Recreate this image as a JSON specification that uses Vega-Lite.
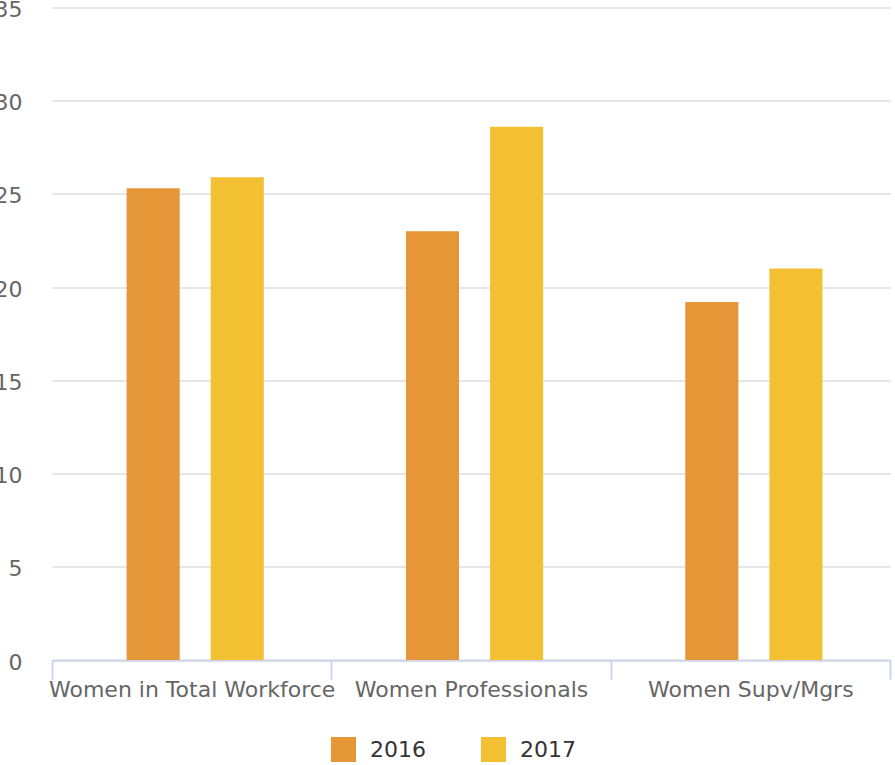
{
  "$schema": "https://vega.github.io/schema/vega-lite/v6.json",
  "autosize": "none",
  "width": 838,
  "height": 652.5,
  "padding": {"left": 52, "top": 7.5, "right": 5, "bottom": 105},
  "background": "white",
  "config": {
    "view": {"stroke": null},
    "font": "DejaVu Sans"
  },
  "data": {
    "values": [
      {"category": "Women in Total Workforce", "year": "2016", "value": 25.3},
      {"category": "Women in Total Workforce", "year": "2017", "value": 25.9},
      {"category": "Women Professionals", "year": "2016", "value": 23.0},
      {"category": "Women Professionals", "year": "2017", "value": 28.6},
      {"category": "Women Supv/Mgrs", "year": "2016", "value": 19.2},
      {"category": "Women Supv/Mgrs", "year": "2017", "value": 21.0}
    ]
  },
  "mark": {"type": "bar"},
  "encoding": {
    "x": {
      "field": "category",
      "type": "nominal",
      "sort": null,
      "scale": {"paddingInner": 0, "paddingOuter": 0},
      "axis": {
        "title": null,
        "labelAngle": 0,
        "labelFont": "DejaVu Sans",
        "labelFontSize": 22,
        "labelColor": "#666666",
        "labelPadding": 0,
        "labelLimit": 400,
        "labelOverlap": false,
        "domainColor": "#ccd6eb",
        "domainWidth": 2,
        "tickColor": "#ccd6eb",
        "tickWidth": 2,
        "tickSize": 19,
        "tickBand": "extent",
        "grid": false
      }
    },
    "xOffset": {
      "field": "year",
      "type": "nominal",
      "scale": {"paddingInner": 0.369, "paddingOuter": 0.845, "align": 0.525}
    },
    "y": {
      "field": "value",
      "type": "quantitative",
      "scale": {"domain": [0, 35], "nice": false},
      "axis": {
        "title": null,
        "values": [0, 5, 10, 15, 20, 25, 30, 35],
        "labelFont": "DejaVu Sans",
        "labelFontSize": 22,
        "labelColor": "#666666",
        "labelPadding": 30,
        "ticks": false,
        "tickSize": 0,
        "domain": false,
        "gridColor": "#e6e6e6",
        "gridWidth": 2,
        "labelBaseline": "middle",
        "labelOffset": 2
      }
    },
    "color": {
      "field": "year",
      "type": "nominal",
      "scale": {"domain": ["2016", "2017"], "range": ["#E59636", "#F3BF33"]},
      "legend": {
        "title": null,
        "orient": "none",
        "direction": "horizontal",
        "legendX": 279,
        "legendY": 729.5,
        "symbolType": "square",
        "symbolSize": 625,
        "symbolStrokeWidth": 0,
        "symbolOpacity": 1,
        "labelFont": "DejaVu Sans",
        "labelFontSize": 22,
        "labelColor": "#333333",
        "labelOffset": 14,
        "columnPadding": 55,
        "padding": 0
      }
    }
  }
}
